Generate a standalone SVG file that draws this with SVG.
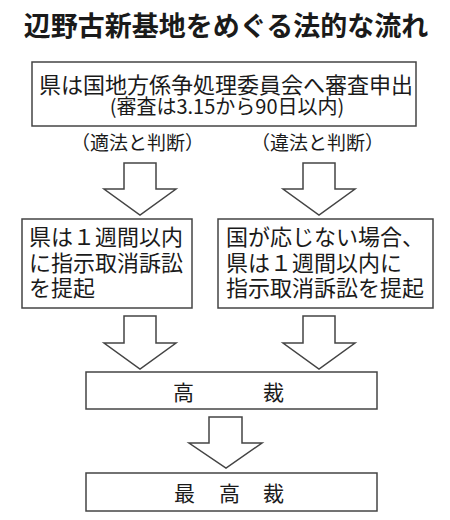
<svg xmlns="http://www.w3.org/2000/svg" width="450" height="520" viewBox="0 0 450 520">
<style>
text{font-family:"Noto Sans CJK JP","Noto Sans CJK SC",sans-serif;fill:#1a1a1a}
.box{fill:#fff;stroke:#444;stroke-width:1.5}
.arr{fill:#fff;stroke:#444;stroke-width:1.5;stroke-linejoin:miter}
.t{font-size:22px}
.c{text-anchor:middle}
</style>
<rect width="450" height="520" fill="#fff"/>
<g id="title"><text x="226" y="36" class="c" style="font-size:27px;font-weight:bold">辺野古新基地をめぐる法的な流れ</text></g>
<g id="n-review">
<rect class="box" x="32" y="62" width="384" height="64"/>
<text x="226" y="93" class="c t">県は国地方係争処理委員会へ審査申出</text>
<text x="227" y="114" class="c" style="font-size:20px">(審査は3.15から90日以内)</text>
</g>
<g id="l-legal"><text x="137.5" y="150" class="c" style="font-size:19px">（適法と判断）</text></g>
<g id="l-illegal"><text x="317.5" y="150" class="c" style="font-size:19px">（違法と判断）</text></g>
<g id="n-left">
<rect class="box" x="22" y="219" width="170" height="89"/>
<text x="29" y="245" class="t">県は１週間以内</text>
<text x="29" y="271" class="t">に指示取消訴訟</text>
<text x="29" y="296" class="t">を提起</text>
</g>
<g id="n-right">
<rect class="box" x="218" y="219" width="215" height="89"/>
<text x="226" y="245" class="t">国が応じない場合、</text>
<text x="226" y="271" class="t">県は１週間以内に</text>
<text x="226" y="296" class="t">指示取消訴訟を提起</text>
</g>
<g id="n-high">
<rect class="box" x="86" y="372" width="291" height="37"/>
<text x="173 263" y="400" style="font-size:21px">高裁</text>
</g>
<g id="n-supreme">
<rect class="box" x="86" y="473" width="291" height="38"/>
<text x="174 219 263" y="501" style="font-size:21px">最高裁</text>
</g>
<g id="connectors">
<polygon class="arr" points="124,163 156,163 156,189 176,189 140,215 104,189 124,189"/>
<polygon class="arr" points="303,163 335,163 335,189 355,189 319,215 283,189 303,189"/>
<polygon class="arr" points="124,316 156,316 156,343 176,343 140,369 104,343 124,343"/>
<polygon class="arr" points="303,316 335,316 335,343 355,343 319,369 283,343 303,343"/>
<polygon class="arr" points="209,417 242,417 242,443 262,443 226,468 189,443 209,443"/>
</g>
</svg>
